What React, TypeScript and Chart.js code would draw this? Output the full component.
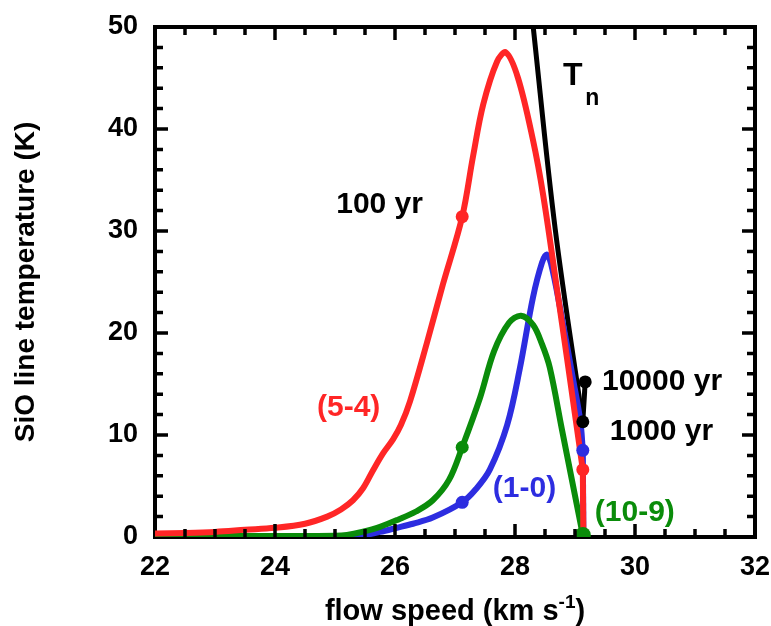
import React, { useEffect, useRef } from 'react';
import { Chart, registerables } from 'chart.js';

Chart.register(...registerables);

// ---------- axes ----------
const X_MIN = 22;
const X_MAX = 32;
const Y_MIN = 0;
const Y_MAX = 50;
const xMajorTicks = [22, 24, 26, 28, 30, 32];
const xMinorStep = 0.5;
const yMajorTicks = [0, 10, 20, 30, 40, 50];
const yMinorStep = 2;

// ---------- series (flow speed km/s, SiO line temperature K) ----------
const line54: [number, number][] = [
  [22.0, 0.35], [22.5, 0.4], [23.0, 0.5], [23.5, 0.7], [24.0, 0.9], [24.5, 1.3],
  [24.87, 2.0], [25.1, 2.7], [25.3, 3.6], [25.47, 4.8], [25.63, 6.5], [25.8, 8.2],
  [25.97, 9.6], [26.1, 11.0], [26.25, 13.3], [26.53, 19.0], [26.8, 24.8], [27.12, 31.4],
  [27.3, 37.3], [27.47, 42.4], [27.7, 46.6], [27.85, 47.5], [28.05, 45.0], [28.3, 38.9],
  [28.47, 33.5], [28.7, 24.3], [28.87, 17.4], [29.0, 12.0], [29.13, 6.6],
];
const line54Drop: [number, number][] = [[29.13, 6.6], [29.14, 0]];

const line10: [number, number][] = [
  [22.0, 0.05], [24.0, 0.05], [25.0, 0.05], [25.4, 0.1], [25.75, 0.5], [26.03, 0.9],
  [26.3, 1.3], [26.63, 1.9], [27.12, 3.4], [27.35, 4.7], [27.58, 6.6], [27.87, 11.0],
  [28.08, 16.5], [28.3, 23.5], [28.45, 26.9], [28.53, 27.7], [28.6, 26.8], [28.75, 22.5],
  [28.97, 15.4], [29.09, 11.3], [29.13, 8.5],
];
const line10Drop: [number, number][] = [[29.13, 8.5], [29.14, 0]];

const line109: [number, number][] = [
  [22.0, 0.1], [24.0, 0.1], [25.0, 0.12], [25.2, 0.2], [25.45, 0.5], [25.75, 1.0],
  [26.05, 1.7], [26.35, 2.5], [26.63, 3.6], [26.9, 5.6], [27.12, 8.8], [27.42, 13.7],
  [27.65, 18.2], [27.9, 21.0], [28.1, 21.7], [28.3, 20.8], [28.45, 18.9], [28.58, 16.6],
  [28.78, 10.6], [29.13, 0.2],
];

const tnLine: [number, number][] = [[28.25, 53], [28.3, 50.2], [28.67, 30.2], [29.13, 11.3]];
const ageBar: [number, number][] = [[29.13, 11.3], [29.17, 15.2]];

const markers54: [number, number][] = [[27.12, 31.4], [29.13, 6.6]];
const markers10: [number, number][] = [[27.12, 3.4], [29.13, 8.5]];
const markers109: [number, number][] = [[27.12, 8.8], [29.13, 0.2]];
const markersTn: [number, number][] = [[29.13, 11.3], [29.17, 15.2]];

// ---------- annotations ----------
const RED = '#ff2626';
const BLUE = '#2d2de0';
const GREEN = '#0a8c0a';
const labelTexts = ['100 yr', '10000 yr', '1000 yr', '(5-4)', '(1-0)', '(10-9)'];
const labelX = [25.02, 29.45, 29.58, 24.7, 27.63, 29.33];
const labelY = [31.8, 14.4, 9.5, 11.9, 3.9, 1.6];
const labelColors = ['#000000', '#000000', '#000000', RED, BLUE, GREEN];
const tnMain = 'T';
const tnSub = 'n';
const tnPos = [28.8, 44.3];
const tnSubPos = [29.17, 42.4];

const xTitleMain = 'flow speed (km s';
const xTitleSup = '-1';
const xTitleEnd = ')';
const yTitle = 'SiO line temperature (K)';

const FAMILY = '"Liberation Sans", Arial, Helvetica, sans-serif';

function stepTicks(min: number, max: number, step: number) {
  const out: { value: number }[] = [];
  const n = Math.round((max - min) / step);
  for (let i = 0; i <= n; i++) out.push({ value: min + i * step });
  return out;
}

const decorPlugin = {
  id: 'decor',
  beforeDatasetsDraw(chart: any) {
    const { ctx, chartArea: a } = chart;
    ctx.save();
    ctx.strokeStyle = '#000';
    ctx.lineWidth = 4;
    ctx.strokeRect(a.left, a.top, a.right - a.left, a.bottom - a.top);
    ctx.restore();
  },
  afterDatasetsDraw(chart: any) {
    const { ctx, chartArea: a } = chart;
    const xs = chart.scales.x;
    const ys = chart.scales.y;
    ctx.save();
    ctx.strokeStyle = '#000';
    ctx.lineWidth = 3.5;
    ctx.lineCap = 'butt';
    ctx.beginPath();
    for (const t of xs.ticks) {
      if (t.value <= X_MIN || t.value >= X_MAX) continue;
      const px = xs.getPixelForValue(t.value);
      const len = xMajorTicks.includes(t.value) ? 13 : 8;
      ctx.moveTo(px, a.bottom);
      ctx.lineTo(px, a.bottom - len);
      ctx.moveTo(px, a.top);
      ctx.lineTo(px, a.top + len);
    }
    for (const t of ys.ticks) {
      if (t.value <= Y_MIN || t.value >= Y_MAX) continue;
      const py = ys.getPixelForValue(t.value);
      const len = yMajorTicks.includes(t.value) ? 13 : 8;
      ctx.moveTo(a.left, py);
      ctx.lineTo(a.left + len, py);
      ctx.moveTo(a.right, py);
      ctx.lineTo(a.right - len, py);
    }
    ctx.stroke();

    // annotations
    ctx.textAlign = 'left';
    ctx.textBaseline = 'alphabetic';
    ctx.font = `bold 30px ${FAMILY}`;
    labelTexts.forEach((txt, i) => {
      ctx.fillStyle = labelColors[i];
      ctx.fillText(txt, xs.getPixelForValue(labelX[i]), ys.getPixelForValue(labelY[i]));
    });
    ctx.fillStyle = '#000';
    ctx.font = `bold 32px ${FAMILY}`;
    ctx.fillText(tnMain, xs.getPixelForValue(tnPos[0]), ys.getPixelForValue(tnPos[1]));
    ctx.font = `bold 23px ${FAMILY}`;
    ctx.fillText(tnSub, xs.getPixelForValue(tnSubPos[0]), ys.getPixelForValue(tnSubPos[1]));

    // x title with superscript
    const mainFont = `bold 29px ${FAMILY}`;
    const supFont = `bold 19px ${FAMILY}`;
    ctx.font = mainFont;
    const w1 = ctx.measureText(xTitleMain).width;
    const w3 = ctx.measureText(xTitleEnd).width;
    ctx.font = supFont;
    const w2 = ctx.measureText(xTitleSup).width;
    const total = w1 + w2 + w3;
    const cx = (a.left + a.right) / 2;
    const base = xs.bottom - 6;
    let x0 = cx - total / 2;
    ctx.fillStyle = '#000';
    ctx.font = mainFont;
    ctx.fillText(xTitleMain, x0, base);
    x0 += w1;
    ctx.font = supFont;
    ctx.fillText(xTitleSup, x0, base - 12);
    x0 += w2;
    ctx.font = mainFont;
    ctx.fillText(xTitleEnd, x0, base);
    ctx.restore();
  },
};

function lineDs(data: [number, number][], color: string, width: number, order: number, smooth = true) {
  return {
    data: data.map(([x, y]) => ({ x, y })),
    borderColor: color,
    backgroundColor: color,
    borderWidth: width,
    pointRadius: 0,
    pointHoverRadius: 0,
    fill: false,
    showLine: true,
    tension: smooth ? 0.35 : 0,
    order,
  };
}

function markerDs(data: [number, number][], color: string, radius: number | number[]) {
  return {
    data: data.map(([x, y]) => ({ x, y })),
    borderColor: color,
    backgroundColor: color,
    pointBackgroundColor: color,
    pointBorderColor: color,
    pointBorderWidth: 0,
    pointRadius: radius,
    showLine: false,
    order: 0,
  };
}

export default function App() {
  const canvasRef = useRef<HTMLCanvasElement | null>(null);

  useEffect(() => {
    const canvas = canvasRef.current;
    if (!canvas) return;
    const chart = new Chart(canvas, {
      type: 'line',
      data: {
        datasets: [
          lineDs(line54, RED, 6, 1),
          lineDs(line54Drop, RED, 6, 1, false),
          lineDs(line109, GREEN, 6, 2),
          lineDs(line10, BLUE, 6, 3),
          lineDs(line10Drop, BLUE, 6, 3, false),
          lineDs(tnLine, '#000000', 5, 4),
          lineDs(ageBar, '#000000', 5, 4, false),
          markerDs(markers54, RED, 6.5),
          markerDs(markers10, BLUE, 6.5),
          markerDs(markers109, GREEN, [6.5, 8]),
          markerDs(markersTn, '#000000', 6.5),
        ] as any,
      },
      options: {
        responsive: false,
        animation: false,
        devicePixelRatio: 1,
        layout: { padding: { left: 0, top: 27, right: 16, bottom: 0 } },
        plugins: {
          legend: { display: false },
          tooltip: { enabled: false },
        },
        scales: {
          x: {
            type: 'linear',
            min: X_MIN,
            max: X_MAX,
            grid: { display: false, drawTicks: false },
            border: { display: false },
            afterBuildTicks: (scale: any) => {
              scale.ticks = stepTicks(X_MIN, X_MAX, xMinorStep);
            },
            afterFit: (scale: any) => {
              scale.height = 89;
              scale.paddingLeft = 0;
              scale.paddingRight = 0;
            },
            ticks: {
              autoSkip: false,
              maxRotation: 0,
              padding: 14,
              color: '#000',
              font: { family: FAMILY, size: 27, weight: 'bold' },
              callback: (v: any) => (xMajorTicks.includes(Number(v)) ? String(v) : ''),
            },
          },
          y: {
            type: 'linear',
            min: Y_MIN,
            max: Y_MAX,
            grid: { display: false, drawTicks: false },
            border: { display: false },
            afterBuildTicks: (scale: any) => {
              scale.ticks = stepTicks(Y_MIN, Y_MAX, yMinorStep);
            },
            afterFit: (scale: any) => {
              scale.width = 155;
              scale.paddingTop = 0;
              scale.paddingBottom = 0;
            },
            title: {
              display: true,
              text: yTitle,
              color: '#000',
              font: { family: FAMILY, size: 28, weight: 'bold' },
              padding: { top: 9, bottom: 0 },
            },
            ticks: {
              autoSkip: false,
              padding: 17,
              color: '#000',
              font: { family: FAMILY, size: 27, weight: 'bold' },
              callback: (v: any) => (yMajorTicks.includes(Number(v)) ? String(v) : ''),
            },
          },
        },
      } as any,
      plugins: [decorPlugin],
    });
    return () => chart.destroy();
  }, []);

  return (
    <div style={{ position: 'absolute', left: 0, top: 0, width: 771, height: 626, background: '#fff' }}>
      <canvas ref={canvasRef} width={771} height={626} style={{ display: 'block' }} />
    </div>
  );
}
